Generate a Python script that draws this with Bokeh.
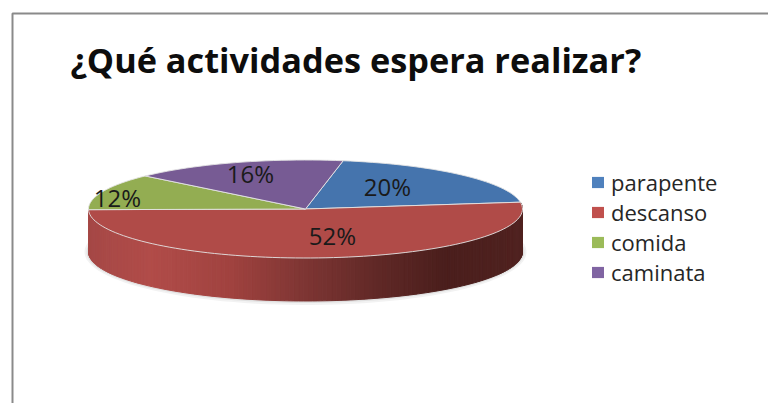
import math
from bokeh.plotting import figure
from bokeh.models import Range1d, Legend, LegendItem
from bokeh.core.properties import value
from bokeh.embed import file_html
from bokeh.resources import INLINE

TITLE = "¿Qué actividades espera realizar?"
categories = ["parapente", "descanso", "comida", "caminata"]
shares = [20, 52, 12, 16]
labels = ["20%", "52%", "12%", "16%"]
face_colors = ["#4574ad", "#b04b48", "#93ad52", "#775b94"]
legend_colors = ["#4f81bd", "#c0504d", "#9bbb59", "#8064a2"]
label_color = "#1a1a1a"

FONT = "Open Sans"
W, H = 768, 403
START = 10.0
CX, CY, RX, RY, DEPTH = 305.0, 208.5, 217.0, 49.0, 43.0


def pt(deg, dy=0.0, grow=0.0):
    a = math.radians(deg)
    return CX + (RX + grow) * math.sin(a), CY + dy - (RY + grow) * math.cos(a)


p = figure(width=W, height=H, output_backend="svg", toolbar_location=None,
           x_range=Range1d(0, W), y_range=Range1d(H, 0),
           min_border=0, outline_line_color=None, background_fill_color="white")
p.axis.visible = False
p.grid.visible = False

# frame
p.line([12, 12, W], [H, 13, 13], line_color="#8a8a8a", line_width=2)

# soft shadow under the pie
for g, a in [(4, 0.10), (2, 0.14)]:
    deg = list(range(70, 292, 3))
    pts = [pt(d, DEPTH, g) for d in deg]
    p.patch([q[0] for q in pts], [q[1] for q in pts], fill_color="#808080",
            fill_alpha=a, line_color=None)

# slice bounds from the shares
total = sum(shares)
bounds = [START]
for s in shares:
    bounds.append(bounds[-1] + 360.0 * s / total)

# front wall: gradient drawn as thin strips, only descanso faces the viewer
stops = [(88, (165, 72, 70)), (150, (177, 76, 73)), (230, (160, 66, 63)),
         (305, (125, 53, 51)), (380, (95, 40, 38)), (445, (74, 30, 28)), (522, (80, 34, 32))]


def wall_color(x):
    for (x0, c0), (x1, c1) in zip(stops, stops[1:]):
        if x <= x1:
            t = max(0.0, (x - x0) / (x1 - x0))
            return "#%02x%02x%02x" % tuple(round(a + (b - a) * t) for a, b in zip(c0, c1))
    return "#%02x%02x%02x" % stops[-1][1]


a0, a1 = bounds[1], bounds[2]
xs, ys, cs = [], [], []
n = 150
for i in range(n):
    d0 = a0 + (a1 - a0) * i / n
    d1 = a0 + (a1 - a0) * (i + 1) / n
    t0, t1 = pt(d0), pt(d1)
    b0, b1 = pt(d0, DEPTH), pt(d1, DEPTH)
    xs.append([t0[0], t1[0], b1[0], b0[0]])
    ys.append([t0[1], t1[1], b1[1], b0[1]])
    cs.append(wall_color((t0[0] + t1[0]) / 2))
p.patches(xs, ys, fill_color=cs, line_color=cs, line_width=1)

# top faces
for i, name in enumerate(categories):
    steps = max(8, int((bounds[i + 1] - bounds[i]) / 2))
    arc = [pt(bounds[i] + (bounds[i + 1] - bounds[i]) * k / steps) for k in range(steps + 1)]
    p.patch([CX] + [q[0] for q in arc], [CY] + [q[1] for q in arc],
            fill_color=face_colors[i], line_color="#e4e4e4", line_width=1, line_alpha=0.9)

# slice value labels
label_x = [387, 332, 117, 250]
label_y = [186, 235, 197, 173]
p.text(label_x, label_y, text=labels, text_font=value(FONT), text_font_size="24px",
       text_color=label_color, text_align="center", text_baseline="middle")

# title
p.text([70], [59], text=[TITLE], text_font=value(FONT), text_font_style="bold",
       text_font_size="34.3px", text_color="#0d0d0d", text_align="left", text_baseline="middle")

# legend
items = []
for i, name in enumerate(categories):
    r = p.patch([CX], [CY], fill_color=legend_colors[i], line_color=None)
    items.append(LegendItem(label=name, renderers=[r]))
legend = Legend(items=items, location=(590, 116), orientation="vertical",
                background_fill_alpha=0, border_line_color=None,
                label_text_font=FONT, label_text_font_size="22px", label_text_color="#262626",
                glyph_width=15, glyph_height=14, label_standoff=6, spacing=0, padding=0, margin=0,
                label_height=25)
p.add_layout(legend, "center")

open("out.html", "w").write(file_html(p, INLINE))
